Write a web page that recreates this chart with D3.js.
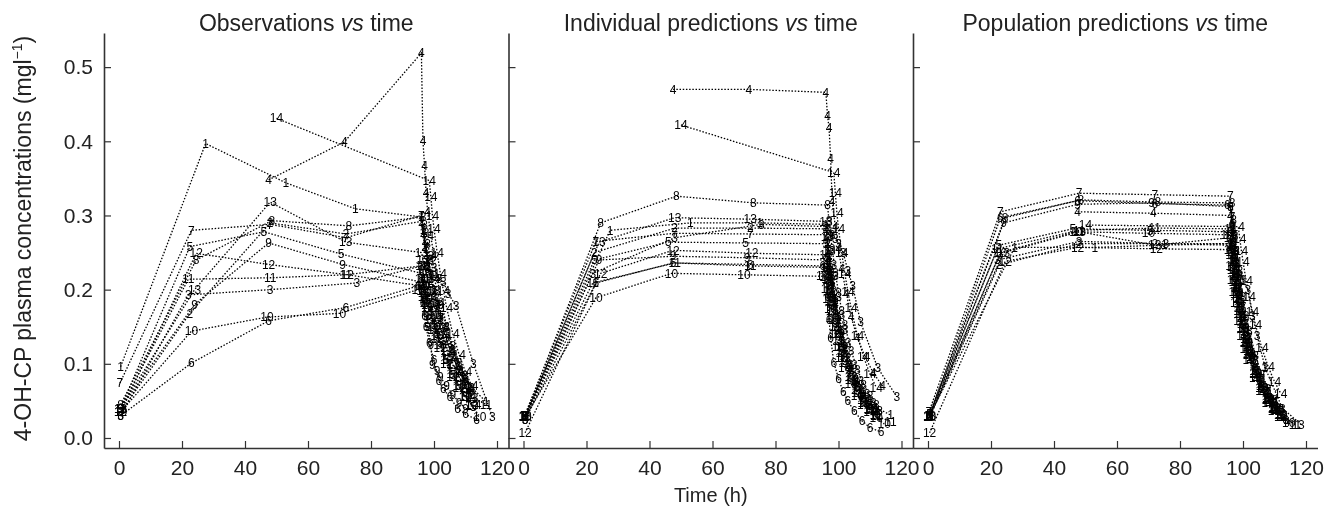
<!DOCTYPE html>
<html>
<head>
<meta charset="utf-8">
<script src="https://cdn.jsdelivr.net/npm/d3@7"></script>
<style>
  body { margin: 0; background: #fff; }
  svg { filter: grayscale(100%); }
  svg text { font-family: "Liberation Sans", Arial, Helvetica, sans-serif; }
</style>
</head>
<body>
<svg id="chart" width="1332" height="515"></svg>
<script>

// subject numbers (used as plotting symbols)
var subjects = [1, 2, 3, 4, 5, 6, 7, 8, 9, 10, 11, 12, 13, 14];

// sampling times (h), one row per subject
var sampleTimes = [
  [0.5, 27.5, 53, 75, 96, 96.5, 97, 97.5, 98, 99, 100, 101, 102, 104, 106, 108, 110, 112, 116.5],
  [0.5, 22.5, 48, 72, 96, 96.5, 97, 97.5, 98, 99, 100, 101, 102, 104, 106, 108, 110, 112],
  [0.5, 22, 48, 75.5, 96, 97, 98, 99, 100, 101.5, 103, 104.5, 107, 112.5, 118.5],
  [47.5, 71.5, 96, 96.5, 97, 97.5, 98, 99, 100, 101, 102.5, 104, 106, 108.5, 111, 114],
  [0.5, 22.5, 46, 70.5, 96, 96.5, 97, 97.5, 98, 99, 100, 101, 102, 104, 106, 108, 110, 112.5],
  [0.5, 23, 47.5, 72, 95, 96, 96.5, 97, 97.5, 98.5, 100, 101.5, 103, 105, 107.5, 110, 113.5],
  [0.3, 23, 48, 72, 96, 96.5, 97, 97.5, 98, 99, 100, 101, 102, 104, 106, 108, 110, 112],
  [0.5, 24.5, 48.5, 73, 96.5, 97, 97.5, 98, 99, 100, 101, 102, 104, 106, 108, 110, 112],
  [0.5, 24, 47.5, 71, 96, 96.5, 97, 97.5, 98, 99, 99.5, 101, 102, 104, 106, 108, 110],
  [0.5, 23, 47, 70, 95, 96, 96.5, 97, 97.5, 98, 99, 100, 101, 102, 104, 106, 108, 110, 112, 114.5],
  [0.5, 22, 48, 72, 96, 96.5, 97, 97.5, 98, 99, 100, 101, 102, 104, 106, 108, 110, 112, 116.5],
  [0.5, 24.5, 47.5, 72.5, 96, 96.5, 97, 97.5, 98, 99, 100, 101, 102, 104, 106, 108, 110, 112],
  [0.5, 24, 48, 72, 96, 96.5, 97, 97.5, 98, 99, 100, 101, 102, 104, 106, 108, 110, 112],
  [50, 98.5, 99, 99.5, 100, 101, 102, 103, 104, 106, 108, 110, 112]
];

// observed 4-OH-CP concentrations (mg/l)
var observed = [
  [0.096, 0.397, 0.344, 0.309, 0.298, 0.281, 0.266, 0.255, 0.240, 0.222, 0.200, 0.183, 0.166, 0.140, 0.118, 0.097, 0.080, 0.068, 0.049],
  [0.035, 0.168, 0.290, 0.275, 0.292, 0.276, 0.258, 0.247, 0.231, 0.212, 0.192, 0.176, 0.160, 0.131, 0.109, 0.090, 0.072, 0.058],
  [0.030, 0.193, 0.200, 0.209, 0.232, 0.236, 0.228, 0.245, 0.230, 0.215, 0.210, 0.195, 0.178, 0.100, 0.029],
  [0.348, 0.399, 0.519, 0.400, 0.367, 0.330, 0.305, 0.272, 0.245, 0.215, 0.182, 0.150, 0.118, 0.090, 0.062, 0.045],
  [0.040, 0.258, 0.278, 0.248, 0.222, 0.210, 0.205, 0.195, 0.186, 0.170, 0.152, 0.140, 0.128, 0.105, 0.085, 0.070, 0.056, 0.042],
  [0.030, 0.101, 0.158, 0.176, 0.205, 0.200, 0.182, 0.165, 0.150, 0.128, 0.105, 0.077, 0.066, 0.055, 0.040, 0.032, 0.025],
  [0.074, 0.280, 0.288, 0.270, 0.300, 0.282, 0.268, 0.255, 0.240, 0.218, 0.198, 0.180, 0.162, 0.134, 0.110, 0.090, 0.074, 0.060],
  [0.045, 0.240, 0.293, 0.286, 0.298, 0.288, 0.276, 0.262, 0.240, 0.218, 0.198, 0.180, 0.150, 0.124, 0.102, 0.084, 0.068],
  [0.040, 0.180, 0.263, 0.234, 0.210, 0.195, 0.182, 0.165, 0.150, 0.125, 0.098, 0.090, 0.082, 0.070, 0.058, 0.048, 0.040],
  [0.035, 0.144, 0.163, 0.168, 0.200, 0.215, 0.205, 0.196, 0.188, 0.180, 0.165, 0.150, 0.138, 0.126, 0.105, 0.086, 0.070, 0.055, 0.044, 0.029],
  [0.040, 0.214, 0.216, 0.220, 0.232, 0.225, 0.215, 0.208, 0.198, 0.182, 0.166, 0.152, 0.140, 0.118, 0.098, 0.082, 0.068, 0.056, 0.045],
  [0.035, 0.249, 0.234, 0.220, 0.205, 0.198, 0.190, 0.182, 0.176, 0.160, 0.146, 0.134, 0.122, 0.100, 0.082, 0.068, 0.055, 0.045],
  [0.040, 0.200, 0.318, 0.264, 0.250, 0.240, 0.232, 0.222, 0.214, 0.196, 0.178, 0.162, 0.148, 0.122, 0.100, 0.082, 0.067, 0.054],
  [0.431, 0.347, 0.325, 0.300, 0.282, 0.250, 0.222, 0.198, 0.176, 0.140, 0.112, 0.089, 0.070]
];

// individual predictions
var indivPred = [
  [0.030, 0.280, 0.290, 0.290, 0.288, 0.265, 0.246, 0.228, 0.212, 0.186, 0.163, 0.144, 0.127, 0.099, 0.078, 0.062, 0.050, 0.041, 0.031],
  [0.028, 0.250, 0.283, 0.283, 0.282, 0.262, 0.243, 0.226, 0.210, 0.183, 0.160, 0.140, 0.123, 0.095, 0.074, 0.058, 0.046, 0.037],
  [0.025, 0.222, 0.270, 0.288, 0.285, 0.280, 0.274, 0.268, 0.262, 0.250, 0.225, 0.205, 0.156, 0.094, 0.056],
  [0.470, 0.470, 0.466, 0.435, 0.418, 0.377, 0.318, 0.285, 0.255, 0.228, 0.195, 0.163, 0.135, 0.109, 0.088, 0.070],
  [0.030, 0.240, 0.264, 0.263, 0.262, 0.243, 0.226, 0.210, 0.196, 0.171, 0.149, 0.131, 0.115, 0.089, 0.069, 0.054, 0.043, 0.032],
  [0.025, 0.209, 0.236, 0.234, 0.232, 0.230, 0.190, 0.160, 0.135, 0.102, 0.080, 0.062, 0.050, 0.036, 0.023, 0.014, 0.008],
  [0.030, 0.265, 0.276, 0.275, 0.274, 0.254, 0.236, 0.219, 0.204, 0.178, 0.155, 0.136, 0.119, 0.092, 0.071, 0.056, 0.044, 0.034],
  [0.030, 0.290, 0.326, 0.317, 0.314, 0.293, 0.273, 0.255, 0.223, 0.196, 0.172, 0.152, 0.118, 0.092, 0.072, 0.057, 0.045],
  [0.030, 0.240, 0.245, 0.243, 0.240, 0.222, 0.206, 0.191, 0.178, 0.155, 0.145, 0.118, 0.104, 0.081, 0.063, 0.049, 0.039],
  [0.028, 0.189, 0.222, 0.220, 0.218, 0.217, 0.201, 0.187, 0.174, 0.162, 0.141, 0.123, 0.108, 0.095, 0.073, 0.057, 0.045, 0.035, 0.027, 0.019],
  [0.030, 0.209, 0.236, 0.232, 0.230, 0.214, 0.199, 0.185, 0.172, 0.150, 0.131, 0.115, 0.101, 0.078, 0.061, 0.048, 0.038, 0.030, 0.022],
  [0.007, 0.222, 0.253, 0.249, 0.247, 0.229, 0.213, 0.198, 0.184, 0.160, 0.140, 0.123, 0.108, 0.083, 0.065, 0.051, 0.040, 0.031],
  [0.030, 0.264, 0.297, 0.295, 0.292, 0.271, 0.252, 0.234, 0.218, 0.190, 0.166, 0.146, 0.128, 0.099, 0.077, 0.060, 0.047, 0.037],
  [0.422, 0.358, 0.330, 0.303, 0.282, 0.250, 0.222, 0.197, 0.175, 0.138, 0.109, 0.086, 0.068]
];

// population predictions
var popPred = [
  [0.030, 0.257, 0.257, 0.260, 0.262, 0.240, 0.221, 0.204, 0.189, 0.165, 0.144, 0.126, 0.110, 0.086, 0.066, 0.051, 0.040, 0.031, 0.018],
  [0.028, 0.233, 0.262, 0.262, 0.260, 0.238, 0.219, 0.202, 0.187, 0.162, 0.141, 0.123, 0.107, 0.083, 0.064, 0.049, 0.038, 0.029],
  [0.030, 0.240, 0.265, 0.262, 0.262, 0.248, 0.236, 0.225, 0.213, 0.200, 0.165, 0.138, 0.095, 0.040, 0.018],
  [0.305, 0.303, 0.300, 0.275, 0.254, 0.235, 0.218, 0.190, 0.165, 0.145, 0.118, 0.095, 0.072, 0.052, 0.036, 0.022],
  [0.032, 0.260, 0.282, 0.280, 0.278, 0.254, 0.234, 0.216, 0.200, 0.174, 0.152, 0.133, 0.116, 0.090, 0.069, 0.054, 0.042, 0.030],
  [0.030, 0.297, 0.320, 0.316, 0.314, 0.312, 0.287, 0.264, 0.243, 0.206, 0.165, 0.133, 0.108, 0.082, 0.058, 0.040, 0.024],
  [0.035, 0.305, 0.330, 0.328, 0.326, 0.298, 0.274, 0.253, 0.234, 0.203, 0.177, 0.154, 0.135, 0.104, 0.080, 0.062, 0.048, 0.036],
  [0.033, 0.297, 0.321, 0.318, 0.317, 0.294, 0.272, 0.252, 0.218, 0.190, 0.165, 0.144, 0.111, 0.085, 0.066, 0.051, 0.039],
  [0.032, 0.290, 0.315, 0.317, 0.312, 0.286, 0.263, 0.243, 0.225, 0.195, 0.182, 0.148, 0.129, 0.100, 0.077, 0.060, 0.046],
  [0.028, 0.250, 0.278, 0.276, 0.274, 0.274, 0.251, 0.231, 0.213, 0.197, 0.171, 0.149, 0.130, 0.114, 0.088, 0.068, 0.053, 0.041, 0.031, 0.020],
  [0.030, 0.255, 0.280, 0.283, 0.282, 0.258, 0.237, 0.219, 0.203, 0.176, 0.154, 0.134, 0.117, 0.091, 0.070, 0.054, 0.042, 0.032, 0.018],
  [0.007, 0.238, 0.257, 0.255, 0.254, 0.232, 0.213, 0.197, 0.182, 0.158, 0.138, 0.120, 0.105, 0.081, 0.063, 0.048, 0.037, 0.028],
  [0.030, 0.250, 0.278, 0.260, 0.270, 0.247, 0.227, 0.210, 0.194, 0.168, 0.147, 0.128, 0.112, 0.087, 0.067, 0.052, 0.040, 0.031],
  [0.287, 0.285, 0.268, 0.252, 0.238, 0.212, 0.190, 0.170, 0.152, 0.121, 0.096, 0.076, 0.060]
];

var panelTitles = ["Observations", "Individual predictions", "Population predictions"];
var xTicks = [0, 20, 40, 60, 80, 100, 120];
var yTicks = [0, 0.1, 0.2, 0.3, 0.4, 0.5];

// layout
var plotLeft = 104, panelW = 404.5, plotTop = 33, plotBottom = 448;
var inkColor = "#000";

var svg = d3.select("#chart");

var y = d3.scaleLinear().domain([-0.0135, 0.546]).range([plotBottom, plotTop]);

function drawPanel(p, values){
  var x0 = plotLeft + p * panelW;
  // 0 sits 15px inside the left axis, 120 sits ~11px before the right edge
  var x = d3.scaleLinear()
      .domain([-15 / 3.15, (panelW - 15) / 3.15])
      .range([x0, x0 + panelW]);

  var g = svg.append("g").attr("class", "panel" + p);

  // y axis, ticks pointing into the panel, labels only on the first one
  var yAxis = d3.axisLeft(y).tickValues(yTicks).tickSizeInner(-7).tickSizeOuter(0).tickPadding(11)
      .tickFormat(p == 0 ? d3.format(".1f") : "");
  g.append("g")
      .attr("transform", `translate(${x0},0)`)
      .call(yAxis);

  var xAxis = d3.axisBottom(x).tickValues(xTicks).tickSizeInner(-7).tickSizeOuter(0).tickPadding(12);
  g.append("g")
      .attr("transform", `translate(0,${plotBottom})`)
      .call(xAxis);

  g.selectAll(".domain").attr("stroke", "#333").attr("stroke-width", 1.6);
  g.selectAll(".tick line").attr("stroke", "#333").attr("stroke-width", 1.2);
  g.selectAll(".tick text").attr("font-size", 21).attr("fill", "#222");

  // title, "vs" in italic
  var title = g.append("text")
      .attr("x", x0 + panelW / 2)
      .attr("y", 31)
      .attr("text-anchor", "middle")
      .attr("font-size", 23)
      .attr("fill", "#222");
  title.append("tspan").text(panelTitles[p] + " ");
  title.append("tspan").attr("font-style", "italic").text("vs");
  title.append("tspan").text(" time");

  var line = d3.line()
      .x(d => x(d[0]))
      .y(d => y(d[1]));

  var rows = subjects.map(function(id, i){
    return { id: id, pts: sampleTimes[i].map((t, j) => [t, values[i][j]]) };
  });

  // dotted profiles
  g.append("g").selectAll("path")
      .data(rows)
      .enter()
      .append("path")
      .attr("d", d => line(d.pts))
      .attr("fill", "none")
      .attr("stroke", inkColor)
      .attr("stroke-width", 1.3)
      .attr("stroke-dasharray", "1.5,1.7");

  // subject numbers at each sample
  var lab = g.append("g").selectAll("g")
      .data(rows)
      .enter()
      .append("g");
  lab.selectAll("text")
      .data(d => d.pts.map(pt => ({ id: d.id, t: pt[0], c: pt[1] })))
      .enter()
      .append("text")
      .attr("x", d => x(d.t))
      .attr("y", d => y(d.c))
      .attr("dy", "0.35em")
      .attr("text-anchor", "middle")
      .attr("font-size", 12)
      .attr("fill", inkColor)
      .text(d => d.id);
}

drawPanel(0, observed);
drawPanel(1, indivPred);
drawPanel(2, popPred);

// shared axis titles
svg.append("text")
    .attr("x", plotLeft + panelW * 1.5)
    .attr("y", 502)
    .attr("text-anchor", "middle")
    .attr("font-size", 20)
    .attr("fill", "#222")
    .text("Time (h)");

var ylab = svg.append("text")
    .attr("transform", `translate(31,${(plotTop + plotBottom) / 2 - 2}) rotate(-90)`)
    .attr("text-anchor", "middle")
    .attr("font-size", 23)
    .attr("fill", "#222");
ylab.append("tspan").text("4-OH-CP plasma concentrations (mgl");
ylab.append("tspan").attr("font-size", 14).attr("dy", -9).text("\u22121");
ylab.append("tspan").attr("dy", 9).text(")");

</script>
</body>
</html>
